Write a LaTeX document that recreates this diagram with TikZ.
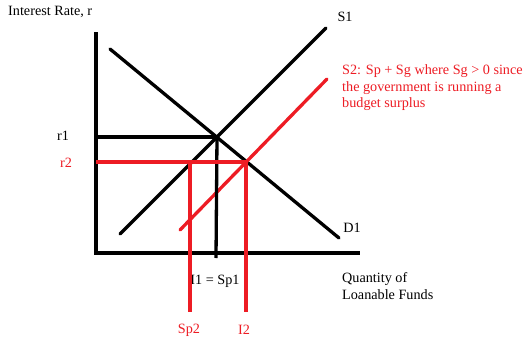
\documentclass[tikz,border=0pt]{standalone}
\usepackage{fontspec}
\setmainfont{Liberation Serif}
\usepackage{xcolor}
\usepackage{tikz}
\usetikzlibrary{positioning,calc}
\definecolor{SurplusRed}{RGB}{237, 28, 36}

\begin{document}
\begin{tikzpicture}[x=1pt,y=-1pt,
      curve/.style={line width=3.3pt,line cap=round,black},
      redcurve/.style={curve,SurplusRed},
      lbl/.style={inner sep=0pt,font=\fontsize{14.2}{16.5}\selectfont},
      redlbl/.style={lbl,text=SurplusRed}]
    \useasboundingbox (0,0) rectangle (525,343);
    % axes
    \coordinate (O) at (96,253);
    \coordinate (Ytop) at (96,32);
    \coordinate (Xend) at (360,253);
    \draw[curve,line cap=butt] (Ytop) -- (O) -- (Xend);
    \node[lbl,anchor=west] (ylab) at (8,12) {Interest Rate, r};
    \node[lbl,anchor=west,align=left] (xlab) at (342,286) {Quantity of\\Loanable Funds};
    % demand and supply
    \coordinate (D1a) at (110,49);
    \coordinate (D1b) at (339,238);
    \coordinate (S1a) at (120,234);
    \coordinate (S1b) at (326,28);
    \coordinate (S2a) at (180,230);
    \coordinate (S2b) at (327,79);
    \draw[curve] (D1a) -- (D1b);
    \draw[curve] (S1a) -- (S1b);
    \draw[redcurve] (S2a) -- (S2b);
    \node[lbl] (D1) at (352,228) {D1};
    \node[lbl] (S1) at (345,17) {S1};
    \node[redlbl,anchor=west,align=left] (S2) at (342,88)
      {S2: Sp + Sg where Sg > 0 since\\the government is running a\\budget surplus};
    % equilibria
    \coordinate (E1) at (217,137);
    \coordinate (E2) at (246,162);
    \coordinate (Sp2top) at (190,162);
    \coordinate (I1bot) at (216,258);
    \coordinate (Sp2bot) at (190,312);
    \coordinate (I2bot) at (246,312);
    \node[lbl] (I1) at (215,281) {I1 = Sp1};
    \draw[curve,line cap=butt] (O |- E1) -- (E1);
    \draw[curve,line cap=butt] (E1) -- (I1bot);
    \draw[redcurve,line cap=butt] (O |- E2) -- (E2);
    \draw[redcurve,line cap=butt] (Sp2top) -- (Sp2bot);
    \draw[redcurve,line cap=butt] (E2) -- (I2bot);
    \node[lbl] (r1) at (63,136) {r1};
    \node[redlbl] (r2) at (66,163) {r2};
    \node[redlbl] (Sp2) at (189,330) {Sp2};
    \node[redlbl] (I2) at (244,330) {I2};
\end{tikzpicture}
\end{document}
